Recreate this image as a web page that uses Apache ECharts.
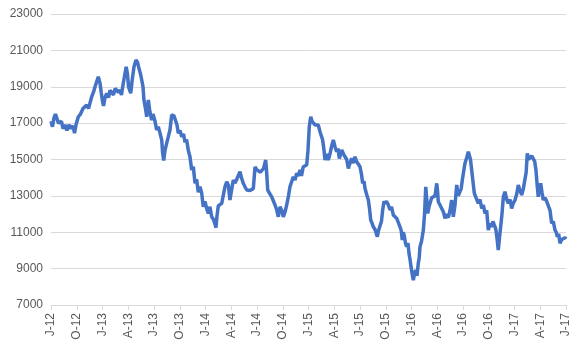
<!DOCTYPE html>
<html>
<head>
<meta charset="utf-8">
<script src="https://cdn.jsdelivr.net/npm/echarts@6/dist/echarts.min.js"></script>
<style>
  html, body { margin: 0; padding: 0; background: #fff; }
  #echart { width: 583px; height: 345px; }
</style>
</head>
<body>
<div id="echart"></div>
<script>
var dom = document.getElementById("echart");
var myChart = echarts.init(dom);

// quarter labels, Jul-12 .. Jul-17 (one every 3 months)
let tickLabels = ['J-12', 'O-12', 'J-13', 'A-13', 'J-13', 'O-13', 'J-14', 'A-14', 'J-14', 'O-14',
    'J-15', 'A-15', 'J-15', 'O-15', 'J-16', 'A-16', 'J-16', 'O-16', 'J-17', 'A-17', 'J-17'];

// months since Jul-12
// prettier-ignore
let months = [0, 0.17, 0.35, 0.52, 0.70, 0.87, 1.05, 1.22, 1.40, 1.63, 1.86, 2.10, 2.33, 2.56, 2.74, 2.91,
    3.18, 3.44, 3.73, 3.96, 4.16, 4.37, 4.54, 4.74, 4.95, 5.13, 5.30, 5.51, 5.63, 5.71, 5.85, 5.98,
    6.12, 6.29, 6.49, 6.70, 6.87, 7.07, 7.28, 7.46, 7.65, 7.86, 8.04, 8.21, 8.42, 8.62, 8.76, 8.91,
    9.03, 9.29, 9.44, 9.67, 9.90, 10.08, 10.25, 10.43, 10.57, 10.72, 10.83, 11.01, 11.15, 11.34, 11.53, 11.73,
    11.88, 12.12, 12.31, 12.50, 12.70, 12.90, 13.01, 13.13, 13.28, 13.48, 13.69, 13.86, 14.06, 14.18, 14.33, 14.50,
    14.68, 14.83, 15.03, 15.23, 15.44, 15.61, 15.79, 16.00, 16.19, 16.39, 16.58, 16.78, 16.97, 17.16, 17.36, 17.56,
    17.74, 17.94, 18.14, 18.33, 18.52, 18.72, 18.93, 19.11, 19.22, 19.34, 19.49, 19.69, 19.89, 20.10, 20.27, 20.47,
    20.66, 20.85, 21.03, 21.24, 21.44, 21.63, 21.84, 22.02, 22.19, 22.40, 22.60, 22.80, 22.99, 23.18, 23.38, 23.57,
    23.77, 23.96, 24.15, 24.35, 24.55, 24.76, 25.01, 25.11, 25.25, 25.46, 25.71, 25.92, 26.10, 26.30, 26.48, 26.68,
    26.88, 27.06, 27.26, 27.46, 27.67, 27.84, 28.04, 28.23, 28.43, 28.62, 28.83, 29.01, 29.18, 29.39, 29.59, 29.79,
    29.94, 30.09, 30.26, 30.41, 30.56, 30.76, 30.96, 31.14, 31.34, 31.51, 31.65, 31.81, 31.92, 32.10, 32.31, 32.50,
    32.68, 32.89, 33.09, 33.28, 33.44, 33.59, 33.87, 34.08, 34.25, 34.45, 34.64, 34.83, 35.03, 35.24, 35.42, 35.59,
    35.80, 36.00, 36.17, 36.31, 36.47, 36.58, 36.76, 36.97, 37.11, 37.25, 37.40, 37.55, 37.75, 37.86, 38.02, 38.16,
    38.33, 38.50, 38.64, 38.80, 38.91, 39.09, 39.30, 39.50, 39.67, 39.88, 40.08, 40.28, 40.49, 40.66, 40.80, 40.93,
    41.04, 41.16, 41.30, 41.44, 41.59, 41.71, 41.83, 41.94, 42.08, 42.21, 42.35, 42.49, 42.64, 42.79, 42.90, 42.99,
    43.17, 43.38, 43.52, 43.66, 43.78, 43.89, 44.04, 44.16, 44.35, 44.54, 44.74, 44.94, 45.03, 45.12, 45.32, 45.52,
    45.73, 45.90, 46.08, 46.29, 46.49, 46.68, 46.78, 46.87, 47.07, 47.27, 47.45, 47.65, 47.79, 47.92, 48.06, 48.23,
    48.43, 48.62, 48.76, 48.87, 49.01, 49.16, 49.32, 49.51, 49.78, 49.98, 50.18, 50.37, 50.56, 50.76, 50.95, 51.15,
    51.34, 51.49, 51.61, 51.73, 51.84, 51.98, 52.11, 52.25, 52.39, 52.54, 52.70, 52.89, 53.09, 53.28, 53.48, 53.67,
    53.86, 54.06, 54.26, 54.44, 54.64, 54.84, 55.03, 55.22, 55.36, 55.49, 55.65, 55.81, 56.00, 56.19, 56.35, 56.50,
    56.64, 56.77, 56.91, 57.05, 57.20, 57.35, 57.55, 57.75, 57.94, 58.14, 58.33, 58.52, 58.72, 58.86, 58.99, 59.15,
    59.30, 59.50, 59.68, 59.88, 60.00];

// prettier-ignore
let values = [17100, 16800, 17300, 17500, 17550, 17000, 16900, 17100, 16700, 16900, 16600, 16900, 16700, 16850, 16450, 16900,
    17350, 17500, 17800, 17900, 18000, 17800, 18100, 18450, 18700, 19000, 19100, 19550, 19450, 19190, 18700, 18270,
    17950, 18400, 18640, 18400, 18800, 18730, 18550, 18900, 18910, 18700, 18820, 18550, 19190, 19100, 20100, 19700,
    19000, 18640, 19300, 20100, 20470, 20350, 20000, 19700, 19370, 19000, 18270, 17800, 17350, 18270, 17600, 17170,
    17500, 17100, 16620, 16800, 16450, 16070, 15340, 14950, 15500, 15900, 16300, 16620, 17450, 17540, 17400, 17350,
    16900, 16440, 16600, 16250, 16400, 15950, 16100, 15500, 15150, 14420, 14600, 13690, 13900, 13200, 13500, 13140,
    12400, 12700, 12300, 12040, 12400, 11850, 11700, 11450, 11250, 11900, 12450, 12400, 12590, 13100, 13500, 13780,
    13600, 12770, 13300, 13870, 13700, 13900, 14000, 14330, 14000, 13690, 13500, 13320, 13230, 13300, 13230, 13400,
    14600, 14450, 14510, 14300, 14400, 14500, 14970, 14400, 13320, 13400, 12950, 12900, 12500, 12220, 11850, 12400,
    12200, 11850, 12100, 12500, 13000, 13500, 13400, 14050, 13870, 14240, 14100, 14420, 14100, 14600, 14500, 14700,
    15500, 16800, 17350, 17100, 17200, 16900, 16800, 16900, 16530, 16600, 16070, 15500, 14970, 15300, 14970, 15300,
    15700, 16070, 15700, 15430, 15600, 15060, 15520, 15300, 15340, 15000, 14510, 14800, 15060, 14800, 15150, 14900,
    14970, 14600, 14200, 13690, 13800, 13420, 13100, 12770, 12300, 11670, 11500, 11300, 11150, 11120, 10750, 11100,
    11030, 11600, 12220, 12700, 12590, 12700, 12500, 12220, 12400, 11950, 12000, 11760, 11700, 11300, 11100, 10570,
    11000, 10800, 10400, 10200, 10400, 9840, 9500, 9110, 8700, 8370, 8700, 8920, 8600, 9290, 9600, 10200,
    10500, 11120, 12000, 13500, 12800, 12040, 12400, 12590, 12900, 12950, 13000, 13690, 13300, 12680, 12500, 12310,
    12100, 11760, 12000, 11800, 12200, 12770, 12300, 11850, 12500, 13600, 13000, 12950, 13400, 13870, 14300, 14790,
    15100, 15430, 15500, 15000, 14420, 13800, 13140, 13140, 12590, 12800, 12310, 12500, 12040, 12200, 11120, 11500,
    11300, 11600, 11670, 11300, 11120, 10600, 10020, 10700, 11300, 12000, 12950, 13230, 12800, 12590, 12800, 12310,
    12600, 12770, 13100, 13600, 13300, 13050, 13400, 13320, 14300, 15340, 15000, 14970, 15200, 15250, 14900, 14420,
    13600, 12950, 13400, 13690, 13200, 12770, 12900, 12700, 12770, 12200, 11490, 11600, 11120, 11000, 10750, 10900,
    10390, 10600, 10570, 10700, 10630];

let yMin = 7000;
let yMax = 23000;

let seriesData = [];
for (let i = 0; i < months.length; i++) {
    seriesData.push([months[i], values[i]]);
}

var option = {
    animation: false,
    grid: {
        left: 51,
        right: 17,
        top: 14,
        bottom: 40
    },
    xAxis: {
        type: 'value',
        min: 0,
        max: 60,
        interval: 3,
        axisLine: {
            show: true,
            lineStyle: { color: '#d9d9d9', width: 1 }
        },
        axisTick: {
            show: true,
            length: 5,
            lineStyle: { color: '#d9d9d9' }
        },
        splitLine: { show: false },
        axisLabel: {
            rotate: 90,
            margin: 8,
            color: '#595959',
            fontFamily: 'Liberation Sans',
            fontSize: 12,
            formatter: function (v) {
                return tickLabels[Math.round(v / 3)] || '';
            }
        }
    },
    yAxis: {
        type: 'value',
        min: yMin,
        max: yMax,
        interval: 2000,
        axisLine: { show: false },
        axisTick: { show: false },
        splitLine: {
            lineStyle: { color: '#d9d9d9', width: 1 }
        },
        axisLabel: {
            margin: 8,
            color: '#595959',
            fontFamily: 'Liberation Sans',
            fontSize: 12,
            formatter: function (v) {
                return String(v);
            }
        }
    },
    series: [
        {
            type: 'line',
            data: seriesData,
            showSymbol: false,
            lineStyle: {
                color: '#4472C4',
                width: 3.5
            }
        }
    ]
};

myChart.setOption(option);
</script>
</body>
</html>
